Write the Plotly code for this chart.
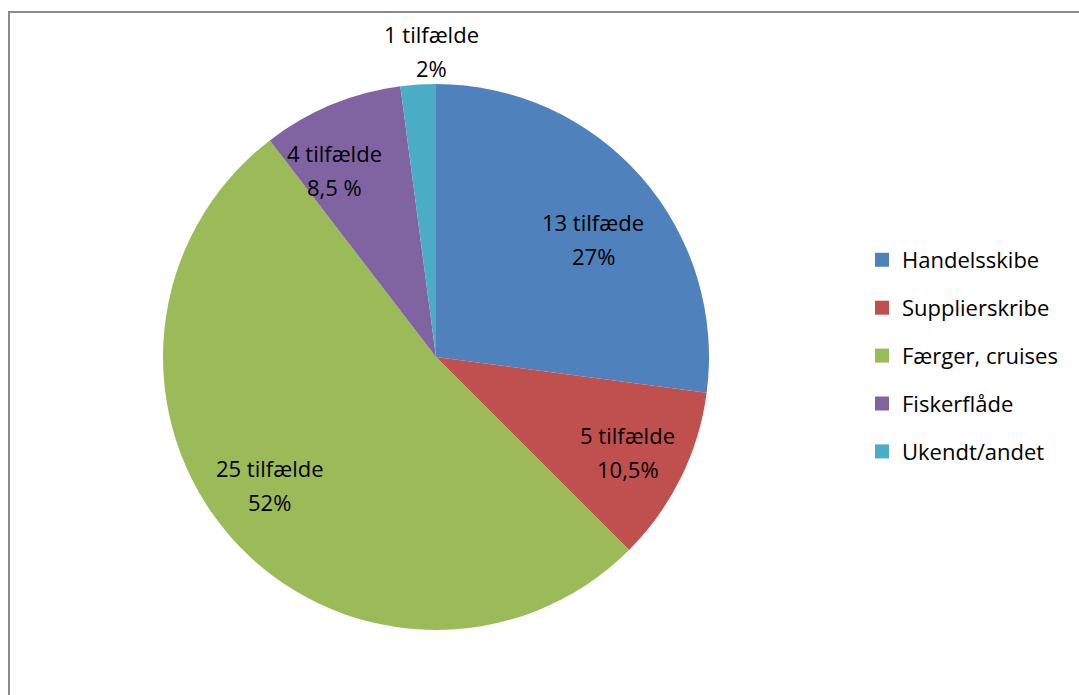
import math
import plotly.graph_objects as go

categories = ["Handelsskibe", "Supplierskribe", "Færger, cruises", "Fiskerflåde", "Ukendt/andet"]
counts = [13, 5, 25, 4, 1]
count_labels = ["13 tilfæde", "5 tilfælde", "25 tilfælde", "4 tilfælde", "1 tilfælde"]
pct_labels = ["27%", "10,5%", "52%", "8,5 %", "2%"]
colors = ["#4F81BD", "#C0504D", "#9BBB59", "#8064A2", "#4BACC6"]

W, H = 1079, 695
CX, CY, R = 436, 357, 273
FONT = "Open Sans"
FS = 22

fig = go.Figure()
fig.add_trace(go.Pie(
    labels=categories, values=counts, sort=False, direction="clockwise", rotation=0,
    marker=dict(colors=colors, line=dict(width=0)),
    textinfo="none", hoverinfo="label+value+percent", showlegend=False,
    domain=dict(x=[(CX - R) / W, (CX + R) / W], y=[(H - CY - R) / H, (H - CY + R) / H]),
))

# legend entries
for i, (c, col) in enumerate(zip(categories, colors)):
    fig.add_trace(go.Scatter(x=[None], y=[None], mode="markers", name=c,
                             marker=dict(symbol="square", size=14, color=col),
                             legendgroup=str(i), showlegend=True))

# labels placed by slice angle (style: radial fraction and angular nudge in degrees)
total = sum(counts)
cum = 0
radial = [0.72, 0.783, 0.768, 0.78, 1.12]
nudge = [4.4, 0.0, 3.7, -6.1, 3.0]
for i, v in enumerate(counts):
    mid = (cum + v / 2) / total * 360 + nudge[i]
    cum += v
    a = math.radians(mid)
    rr = radial[i] * R
    px = CX + rr * math.sin(a)
    py = CY - rr * math.cos(a)
    for txt, dy in ((count_labels[i], -17), (pct_labels[i], 17)):
        fig.add_annotation(x=px / W, y=1 - (py + dy) / H, xref="paper", yref="paper",
                           text=txt, showarrow=False, xanchor="center", yanchor="middle",
                           font=dict(family=FONT, size=FS, color="#000000"))

# frame lines
fig.add_shape(type="line", xref="paper", yref="paper", x0=8 / W, x1=1, y0=1 - 12 / H, y1=1 - 12 / H,
              line=dict(color="#8A8A8A", width=2))
fig.add_shape(type="line", xref="paper", yref="paper", x0=9 / W, x1=9 / W, y0=0, y1=1 - 12 / H,
              line=dict(color="#8A8A8A", width=2))

fig.update_layout(
    width=W, height=H, margin=dict(l=0, r=0, t=0, b=0),
    paper_bgcolor="white", plot_bgcolor="white",
    xaxis=dict(visible=False), yaxis=dict(visible=False),
    legend=dict(x=862 / W, y=1 - 239 / H, xanchor="left", yanchor="top",
                font=dict(family=FONT, size=FS, color="#000000"), tracegroupgap=16.3,
                bgcolor="rgba(0,0,0,0)"),
)
fig.write_html("out.html")
